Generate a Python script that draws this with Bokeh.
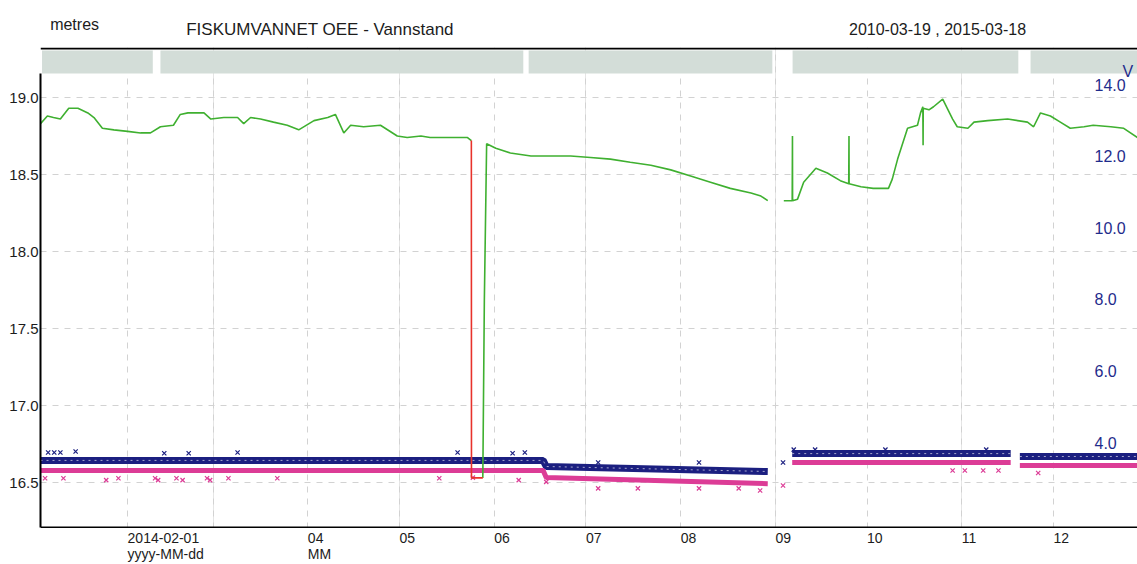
import numpy as np
import pandas as pd
from bokeh.plotting import figure
from bokeh.layouts import column
from bokeh.models import (Range1d, FixedTicker, Label, LabelSet, Grid, Span,
                          ColumnDataSource, NumeralTickFormatter)
from bokeh.core.properties import value
from bokeh.embed import file_html
from bokeh.resources import INLINE

# ---------------- data ----------------
# water level (metres, left axis), None = gap
green_t = ["2014-01-03 12:00", "2014-01-05 18:00", "2014-01-07 18:00", "2014-01-10 00:00",
           "2014-01-12 18:00", "2014-01-15 18:00", "2014-01-19 00:00", "2014-01-21 00:00",
           "2014-01-23 18:00", "2014-01-27 12:00", "2014-02-01 00:00", "2014-02-05 06:00",
           "2014-02-08 12:00", "2014-02-11 18:00", "2014-02-16 00:00", "2014-02-18 06:00",
           "2014-02-20 18:00", "2014-02-26 00:00", "2014-02-28 06:00", "2014-03-04 12:00",
           "2014-03-09 00:00", "2014-03-11 00:00", "2014-03-13 06:00", "2014-03-16 12:00",
           "2014-03-20 18:00", "2014-03-25 06:00", "2014-03-29 00:00", "2014-04-03 00:00",
           "2014-04-07 12:00", "2014-04-10 00:00", "2014-04-12 18:00", "2014-04-15 00:00",
           "2014-04-19 06:00", "2014-04-24 18:00", "2014-04-30 06:00", "2014-05-03 12:00",
           "2014-05-08 00:00", "2014-05-11 00:00", "2014-05-17 18:00", "2014-05-23 06:00",
           "2014-05-24 12:00", "2014-05-26 00:00",
           "2014-05-28 06:00", "2014-05-28 18:00", "2014-05-29 12:00", "2014-06-01 12:00",
           "2014-06-06 06:00", "2014-06-13 00:00", "2014-06-19 12:00", "2014-06-26 00:00",
           "2014-07-02 12:00", "2014-07-09 00:00", "2014-07-15 12:00", "2014-07-22 06:00",
           "2014-07-28 18:00", "2014-08-04 06:00", "2014-08-10 18:00", "2014-08-17 06:00",
           "2014-08-24 00:00", "2014-08-27 06:00", "2014-08-29 12:00", "2014-09-01 00:00",
           "2014-09-03 18:00", "2014-09-06 12:00", "2014-09-06 14:00", "2014-09-06 15:00",
           "2014-09-08 06:00", "2014-09-10 06:00", "2014-09-14 06:00", "2014-09-18 00:00",
           "2014-09-22 06:00", "2014-09-25 00:00", "2014-09-25 02:00", "2014-09-25 03:00",
           "2014-09-29 00:00", "2014-10-03 00:00", "2014-10-08 00:00", "2014-10-09 06:00",
           "2014-10-11 00:00", "2014-10-14 06:00", "2014-10-17 12:00", "2014-10-18 12:00",
           "2014-10-19 06:00", "2014-10-19 08:00", "2014-10-19 09:00", "2014-10-21 06:00",
           "2014-10-22 18:00", "2014-10-25 18:00", "2014-10-27 06:00", "2014-10-29 00:00",
           "2014-10-30 12:00", "2014-11-03 00:00", "2014-11-05 00:00", "2014-11-09 12:00",
           "2014-11-16 00:00", "2014-11-22 12:00", "2014-11-24 12:00", "2014-11-26 18:00",
           "2014-11-30 00:00", "2014-12-03 06:00", "2014-12-06 12:00", "2014-12-11 00:00",
           "2014-12-14 00:00", "2014-12-19 18:00", "2014-12-24 00:00", "2014-12-28 12:00"]
green_v = [18.83, 18.88, 18.87, 18.86, 18.93, 18.93, 18.90, 18.87,
           18.80, 18.79, 18.78, 18.77, 18.77, 18.81, 18.82, 18.89,
           18.90, 18.90, 18.86, 18.87, 18.87, 18.83, 18.87, 18.86,
           18.84, 18.82, 18.79, 18.85, 18.87, 18.89, 18.77, 18.82,
           18.81, 18.82, 18.75, 18.74, 18.75, 18.74, 18.74, 18.74,
           18.72, None,
           16.53, 17.68, 18.70, 18.67, 18.64, 18.62, 18.62, 18.62,
           18.61, 18.60, 18.58, 18.56, 18.53, 18.49, 18.45, 18.41,
           18.38, 18.36, 18.33, None,
           18.33, 18.33, 18.75, 18.33, 18.34, 18.45, 18.54, 18.51,
           18.46, 18.44, 18.75, 18.44, 18.42, 18.41, 18.41, 18.47,
           18.60, 18.80, 18.82, 18.90, 18.94, 18.69, 18.93, 18.92,
           18.94, 18.99, 18.93, 18.86, 18.81, 18.80, 18.84, 18.85,
           18.86, 18.84, 18.81, 18.90, 18.88, 18.84, 18.80, 18.81,
           18.82, 18.81, 18.80, 18.74]

# flagged drop (red)
red_t = ["2014-05-24 12:00", "2014-05-24 13:00", "2014-05-28 06:00"]
red_v = [18.72, 16.53, 16.53]

# voltage series (V, right axis)
blue_t = ["2014-01-03 12:00", "2014-06-17 00:00", "2014-06-18 00:00", "2014-08-29 12:00",
          "2014-09-01 00:00", "2014-09-06 12:00", "2014-11-17 00:00", "2014-11-18 12:00",
          "2014-11-20 00:00", "2014-12-28 12:00"]
blue_v = [3.50, 3.50, 3.33, 3.19, None, 3.69, 3.69, None, 3.61, 3.61]
pink_t = blue_t
pink_v = [3.22, 3.22, 3.02, 2.85, None, 3.44, 3.44, None, 3.36, 3.36]

blue_pts_t = ["2014-01-06 00:00", "2014-01-08 00:00", "2014-01-10 00:00", "2014-01-15 00:00",
              "2014-02-13 00:00", "2014-02-21 00:00", "2014-03-09 00:00", "2014-05-20 00:00",
              "2014-06-07 00:00", "2014-06-11 00:00", "2014-07-05 00:00", "2014-08-07 00:00",
              "2014-09-03 12:00", "2014-09-07 00:00", "2014-09-14 00:00", "2014-10-07 00:00",
              "2014-11-09 00:00"]
blue_pts_v = [3.72, 3.72, 3.72, 3.75, 3.70, 3.70, 3.72, 3.72, 3.70, 3.72,
              3.44, 3.44, 3.44, 3.80, 3.80, 3.80, 3.80]
pink_pts_t = ["2014-01-05 00:00", "2014-01-11 00:00", "2014-01-25 00:00", "2014-01-29 00:00",
              "2014-02-10 00:00", "2014-02-11 00:00", "2014-02-17 00:00", "2014-02-19 00:00",
              "2014-02-27 00:00", "2014-02-28 00:00", "2014-03-06 00:00", "2014-03-22 00:00",
              "2014-05-14 00:00", "2014-05-25 00:00", "2014-06-09 00:00", "2014-06-18 00:00",
              "2014-07-05 00:00", "2014-07-18 00:00", "2014-08-07 00:00", "2014-08-20 00:00",
              "2014-08-27 00:00", "2014-09-03 12:00", "2014-10-29 00:00", "2014-11-02 00:00",
              "2014-11-08 00:00", "2014-11-13 00:00", "2014-11-26 00:00"]
pink_pts_v = [3.00, 3.00, 2.95, 3.00, 3.00, 2.95, 3.00, 2.95, 3.00, 2.95,
              3.00, 3.00, 3.00, 3.02, 2.95, 2.90, 2.72, 2.72, 2.72, 2.72,
              2.66, 2.80, 3.22, 3.22, 3.22, 3.22, 3.15]

# data availability bar
bar_start = ["2014-01-04 00:00", "2014-02-11 18:00", "2014-06-12 06:00", "2014-09-06 15:00", "2014-11-23 12:00"]
bar_end = ["2014-02-09 06:00", "2014-06-10 12:00", "2014-08-31 00:00", "2014-11-19 12:00", "2014-12-29 00:00"]

# axes
x_ticks = ["2014-02-01 00:00", "2014-03-01 00:00", "2014-04-01 00:00", "2014-05-01 00:00",
           "2014-06-01 00:00", "2014-07-01 00:00", "2014-08-01 00:00", "2014-09-01 00:00",
           "2014-10-01 00:00", "2014-11-01 00:00", "2014-12-01 00:00"]
x_tick_labels = ["2014-02-01", "", "04", "05", "06", "07", "08", "09", "10", "11", "12"]
x_tick_fmt = ["yyyy-MM-dd", "", "MM", "", "", "", "", "", "", "", ""]
y_ticks = [16.5, 17.0, 17.5, 18.0, 18.5, 19.0]
v_ticks = [4.0, 6.0, 8.0, 10.0, 12.0, 14.0]
v_tick_labels = ["4.0", "6.0", "8.0", "10.0", "12.0", "14.0"]

title_text = "FISKUMVANNET OEE - Vannstand"
unit_text = "metres"
period_text = "2010-03-19 , 2015-03-18"
v_unit = "V"

# ---------------- style / layout ----------------
FONT = "Liberation Sans"
TXT = "#1c1c1c"
BLUE_TXT = "#1f2c8c"
GREEN = "#3fb030"
RED = "#e8322b"
NAVY = "#1b1f80"
PINK = "#dc3c96"
BAR = "#d3ddd8"
GRID = "#d2d2d2"

W = 1137
HEAD_H, MAIN_H, FOOT_H = 47, 481, 36
LEFT = 40
X_START, X_END = pd.Timestamp("2014-01-03 12:00"), pd.Timestamp("2014-12-28 12:00")
Y_LO, Y_HI = 16.2013, 19.3247        # frame extent of main panel
Y_AXIS = 16.208                       # bottom axis line
Y_TOPLINE = 19.318                    # top frame line
V_LO, V_HI = 1.598, 15.034
BAR_LO, BAR_HI = 19.156, 19.305


def dts(lst):
    return pd.to_datetime(lst, format="%Y-%m-%d %H:%M")


def num(lst):
    return np.array([np.nan if v is None else v for v in lst], dtype=float)


def bare(fig):
    fig.outline_line_color = None
    fig.background_fill_color = "white"
    fig.border_fill_color = "white"
    return fig


# ---------- header ----------
head = bare(figure(width=W, height=HEAD_H, x_range=Range1d(0, W), y_range=Range1d(HEAD_H, 0),
                   x_axis_location=None, y_axis_location=None, output_backend="svg",
                   toolbar_location=None, min_border=0))
head.grid.visible = False
hdr = dict(text_baseline="alphabetic", text_align="left", text_font=FONT, text_color=TXT)
head.add_layout(Label(x=10, y=24, text=unit_text, text_font_size="16px", **hdr))
head.add_layout(Label(x=151, y=29, text=title_text, text_font_size="17px", **hdr))
head.add_layout(Label(x=838, y=29, text=period_text, text_font_size="16px", **hdr))

# ---------- main ----------
x_rng = Range1d(X_START, X_END)
p = bare(figure(width=W, height=MAIN_H, x_axis_type="datetime", x_range=x_rng,
                y_range=Range1d(Y_LO, Y_HI), x_axis_location=None,
                output_backend="svg", toolbar_location=None,
                min_border_left=LEFT, min_border_right=0, min_border_top=0, min_border_bottom=0))
p.extra_y_ranges = {"volt": Range1d(V_LO, V_HI)}

tick_ms = [int(t.value // 10**6) for t in dts(x_ticks)]

yax = p.left[0]
yax.ticker = FixedTicker(ticks=y_ticks)
yax.formatter = NumeralTickFormatter(format="0.0")
yax.major_label_text_font = FONT
yax.major_label_text_font_size = "15px"
yax.major_label_text_color = TXT
yax.major_label_standoff = 2
yax.major_tick_in = 0
yax.major_tick_out = 0
yax.minor_tick_in = 0
yax.minor_tick_out = 0
yax.major_tick_line_color = None
yax.minor_tick_line_color = None
yax.axis_line_width = 2
yax.axis_line_color = "black"
yax.bounds = (Y_AXIS, BAR_LO)

p.ygrid.grid_line_color = GRID
p.ygrid.grid_line_dash = "6 6"
p.add_layout(Grid(dimension=0, ticker=FixedTicker(ticks=tick_ms), grid_line_color=GRID,
                  grid_line_dash="6 6"))

p.add_layout(Span(location=Y_TOPLINE, dimension="width", line_color="black", line_width=2))
p.add_layout(Span(location=Y_AXIS, dimension="width", line_color="black", line_width=2))

# availability bar
p.quad(left=dts(bar_start), right=dts(bar_end), bottom=BAR_LO, top=BAR_HI,
       fill_color=BAR, line_color=None)

# voltage bands
p.line(dts(blue_t), num(blue_v), y_range_name="volt", line_color=NAVY, line_width=7)
p.line(dts(pink_t), num(pink_v), y_range_name="volt", line_color=PINK, line_width=5)
p.line(dts(blue_t), num(blue_v), y_range_name="volt", line_color="white", line_width=1,
       line_dash="2 4", line_alpha=0.6)
p.scatter(dts(blue_pts_t), blue_pts_v, y_range_name="volt", marker="x", size=6,
          line_color=NAVY, line_width=1.2)
p.scatter(dts(pink_pts_t), pink_pts_v, y_range_name="volt", marker="x", size=6,
          line_color=PINK, line_width=1.2)

# water level
p.line(dts(green_t), num(green_v), line_color=GREEN, line_width=1.6)
p.line(dts(red_t), red_v, line_color=RED, line_width=1.6)

# right axis labels (drawn inside the frame, as in the cropped original)
RIGHT_X = 1054
p.add_layout(LabelSet(x=RIGHT_X, y="v", text="t", x_units="screen", y_range_name="volt",
                      source=ColumnDataSource(dict(v=v_ticks, t=v_tick_labels)),
                      text_align="left", text_baseline="middle", text_color=BLUE_TXT,
                      text_font=value(FONT), text_font_size="16px"))
p.add_layout(Label(x=1082, y=457, x_units="screen", y_units="screen", text=v_unit,
                   text_baseline="alphabetic", text_align="left", text_font=FONT,
                   text_font_size="16px", text_color=BLUE_TXT))

# ---------- footer: x tick labels, left-aligned at their ticks ----------
foot = bare(figure(width=W, height=FOOT_H, x_axis_type="datetime", x_range=x_rng,
                   y_range=Range1d(FOOT_H, 0), x_axis_location=None, y_axis_location=None,
                   output_backend="svg", toolbar_location=None,
                   min_border_left=LEFT, min_border_right=0, min_border_top=0, min_border_bottom=0))
foot.grid.visible = False
src_lab = ColumnDataSource(dict(x=[t for t, s in zip(tick_ms, x_tick_labels) if s],
                                t=[s for s in x_tick_labels if s]))
src_fmt = ColumnDataSource(dict(x=[t for t, s in zip(tick_ms, x_tick_fmt) if s],
                                t=[s for s in x_tick_fmt if s]))
lab_style = dict(text_align="left", text_baseline="alphabetic", text_color=TXT,
                 text_font=value(FONT), text_font_size="14px")
foot.add_layout(LabelSet(x="x", y=14, text="t", source=src_lab, **lab_style))
foot.add_layout(LabelSet(x="x", y=30, text="t", source=src_fmt, **lab_style))

layout = column(head, p, foot, spacing=0)
open("out.html", "w").write(file_html(layout, INLINE))
